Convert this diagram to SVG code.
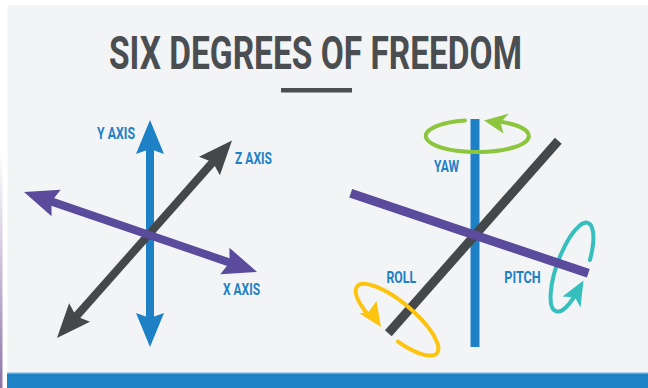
<svg xmlns="http://www.w3.org/2000/svg" width="648" height="388" viewBox="0 0 648 388">
  <defs>
    <linearGradient id="edgeFade" x1="0" y1="0" x2="0" y2="1">
      <stop offset="0" stop-color="#8a6aa8" stop-opacity="0"/>
      <stop offset="1" stop-color="#6e4f92" stop-opacity="0.8"/>
    </linearGradient>
    <style>
      .title { font-family: Roboto, "Liberation Sans", sans-serif; font-weight: 700; fill: #4b4e51; }
      .lbl { font-family: Roboto, "Liberation Sans", sans-serif; font-weight: 700; font-size: 16px; fill: #1e81c6; }
      .shaft { fill: none; stroke-width: 8; stroke-linecap: butt; }
      .bar { fill: none; stroke-width: 9; stroke-linecap: butt; }
      .ring { fill: none; stroke-width: 4; stroke-linecap: round; }
      .blue { stroke: #1e81c6; }
      .purple { stroke: #5a4b9c; }
      .grey { stroke: #45484a; }
      .fblue { fill: #1e81c6; }
      .fpurple { fill: #5a4b9c; }
      .fgrey { fill: #45484a; }
    </style>
  </defs>

  <!-- page background -->
  <rect x="0" y="0" width="648" height="388" fill="#ffffff"/>
  <rect x="0" y="150" width="2.5" height="238" fill="url(#edgeFade)"/>
  <rect x="7.5" y="5" width="640.5" height="383" fill="#f3f4f6"/>
  <rect x="7" y="372.5" width="641" height="1" fill="#6fb0dd"/>
  <rect x="7" y="373.5" width="641" height="14.5" fill="#1e82c6"/>

  <!-- heading -->
  <g id="heading">
    <text class="title" x="109" y="68.5" font-size="45.5" textLength="413" lengthAdjust="spacingAndGlyphs">SIX DEGREES OF FREEDOM</text>
    <rect x="281" y="88" width="71" height="4.5" fill="#4b4e51"/>
  </g>

  <!-- translation axes (left) -->
  <g id="connectors">
    <g id="y-axis">
      <line class="shaft blue" x1="150" y1="145" x2="150" y2="322"/>
      <polygon class="fblue" points="150,120 164,154 150,149 136,154"/>
      <polygon class="fblue" points="150,347 164,313 150,318 136,313"/>
    </g>
    <g id="z-axis">
      <line class="shaft grey" x1="73" y1="320" x2="216" y2="158.5"/>
      <polygon class="fgrey" points="57,338 69.1,303.3 76.2,316.3 90,321.8"/>
      <polygon class="fgrey" points="232,140.5 219.9,175.2 212.8,162.2 199,156.7"/>
    </g>
    <g id="x-axis">
      <line class="shaft purple" x1="46" y1="199.6" x2="235" y2="264.4"/>
      <polygon class="fpurple" points="24,192 60.7,189.8 51.4,201.4 51.6,216.3"/>
      <polygon class="fpurple" points="257,272 229.4,247.7 229.6,262.6 220.3,274.2"/>
    </g>
  </g>

  <g id="y-axis-label"><text class="lbl" x="97" y="138.5" textLength="38" lengthAdjust="spacingAndGlyphs">Y AXIS</text></g>
  <g id="z-axis-label"><text class="lbl" x="235" y="163.5" textLength="37" lengthAdjust="spacingAndGlyphs">Z AXIS</text></g>
  <g id="x-axis-label"><text class="lbl" x="223" y="294.5" textLength="37" lengthAdjust="spacingAndGlyphs">X AXIS</text></g>

  <!-- rotation axes (right) -->
  <g id="vertical-bar">
    <line class="bar blue" x1="475" y1="119" x2="475" y2="347"/>
  </g>

  <g id="yaw">
    <path class="ring" stroke="#8cc63f" d="M 502,122 A 51.5 16 0 1 1 465,120.5"/>
    <polygon fill="#8cc63f" points="484,120.5 509,113.5 500.5,122.5 503.5,133.5"/>
  </g>

  <g id="depth-bar">
    <line class="bar grey" x1="558.3" y1="140.7" x2="388.3" y2="333.3"/>
  </g>

  <g id="roll">
    <path class="ring" stroke="#fcc30f" d="M 397.9,341.7 A 52 17 40 1 0 366.5,312.8"/>
    <polygon fill="#fcc30f" points="381,327 359.5,313.5 369,311.5 376.5,301"/>
  </g>

  <g id="pitch">
    <path class="ring" stroke="#36bfbd" d="M 574.3,296.6 A 15 47 20 1 1 589.9,260"/>
    <polygon fill="#36bfbd" points="583.5,280.5 580.5,307.5 575,297.5 562.5,296.5"/>
  </g>

  <g id="horizontal-bar">
    <line class="bar purple" x1="350.7" y1="193.3" x2="588.3" y2="273.3"/>
  </g>

  <g id="yaw-label"><text class="lbl" x="434" y="171.5" textLength="25" lengthAdjust="spacingAndGlyphs">YAW</text></g>
  <g id="roll-label"><text class="lbl" x="386.5" y="282.7" textLength="29.5" lengthAdjust="spacingAndGlyphs">ROLL</text></g>
  <g id="pitch-label"><text class="lbl" x="504.3" y="282.7" textLength="36.5" lengthAdjust="spacingAndGlyphs">PITCH</text></g>
</svg>
